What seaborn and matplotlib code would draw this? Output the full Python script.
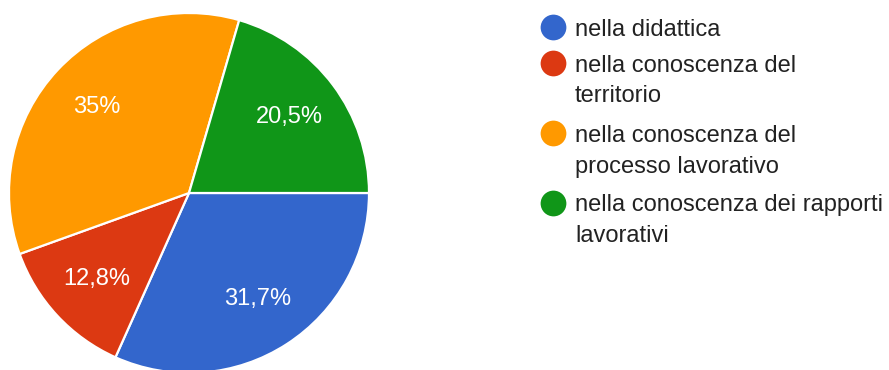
import matplotlib
matplotlib.use('Agg')
import matplotlib.pyplot as plt
import seaborn as sns

labels = [
    'nella didattica',
    'nella conoscenza del\nterritorio',
    'nella conoscenza del\nprocesso lavorativo',
    'nella conoscenza dei rapporti\nlavorativi',
]
values = [31.7, 12.8, 35.0, 20.5]
colors = ['#3366cc', '#dc3912', '#ff9900', '#109618']

sns.set_theme(style='white')
plt.rcParams['font.family'] = ['Liberation Sans', 'DejaVu Sans']

W, H = 889, 370
fig = plt.figure(figsize=(W / 100, H / 100), dpi=100)

# pie: center at (189, 193) px, radius 180 px
cx, cy, r = 189, 193, 180
ax = fig.add_axes([(cx - r) / W, (H - cy - r) / H, 2 * r / W, 2 * r / H])


def fmt_pct(p):
    s = f'{p:.1f}'
    if s.endswith('.0'):
        s = s[:-2]
    return s.replace('.', ',') + '%'


palette = sns.color_palette(colors)
wedges, texts, autotexts = ax.pie(
    values, colors=palette, startangle=0, counterclock=False,
    autopct=fmt_pct, pctdistance=0.70, radius=1,
    wedgeprops=dict(edgecolor='white', linewidth=1.6),
    textprops=dict(color='white', fontsize=17))
ax.set_xlim(-1, 1)
ax.set_ylim(-1, 1)
ax.set_aspect('equal')
ax.axis('off')

# legend drawn in pixel coordinates
lax = fig.add_axes([0, 0, 1, 1])
lax.set_xlim(0, W)
lax.set_ylim(H, 0)
lax.axis('off')

y = 27
line_h = 31
for lab, col in zip(labels, colors):
    lax.scatter([553], [y], s=25 ** 2 * 0.55, color=col, marker='o', linewidths=0)
    lines = lab.split('\n')
    for i, line in enumerate(lines):
        lax.text(575, y + 8.5 + i * line_h, line, fontsize=17, color='#222222',
                 va='baseline', ha='left')
    extra = len(lines) - 1
    y += extra * line_h + (39 if extra else 36)

fig.savefig('out.png', dpi=100)
plt.close(fig)
